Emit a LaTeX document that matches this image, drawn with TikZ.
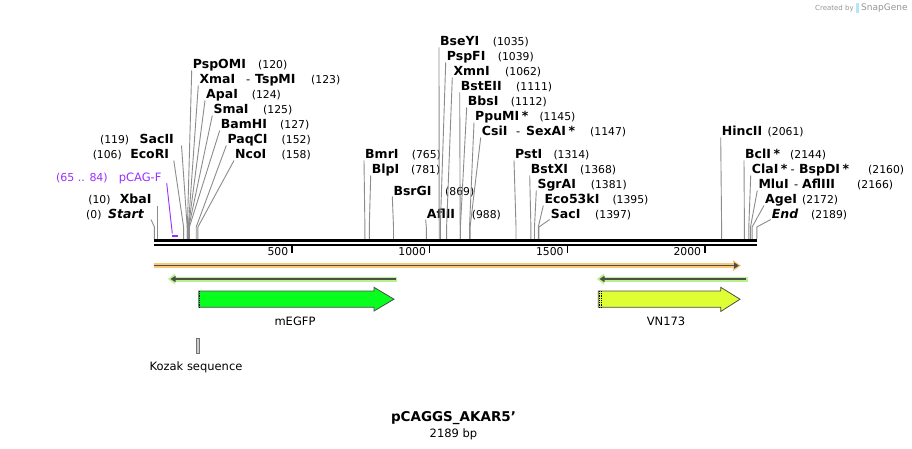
\documentclass[tikz,border=0pt]{standalone}
\usepackage{fontspec}
\setmainfont{DejaVu Sans}
\usetikzlibrary{arrows.meta,calc}
\definecolor{cutgray}{RGB}{140,140,140}
\definecolor{darkline}{RGB}{77,77,77}
\definecolor{orhalo}{RGB}{249,200,122}
\definecolor{grhalo}{RGB}{184,242,140}
\definecolor{egfp}{RGB}{8,255,30}
\definecolor{vn}{RGB}{224,255,51}
\definecolor{primer}{RGB}{155,48,255}
\definecolor{logo}{RGB}{150,150,150}
\newcommand\starmark{\hspace{2.5pt}*}
\tikzset{
  nm/.style={font=\bfseries\fontsize{12.5}{14}\selectfont, inner sep=0pt, anchor=base west},
  nmi/.style={font=\bfseries\itshape\fontsize{12.5}{14}\selectfont, inner sep=0pt, anchor=base west},
  num/.style={font=\fontsize{10.8}{13}\selectfont, inner sep=0pt, anchor=base west},
  cut/.style={draw=cutgray, line width=0.9pt},
  feat/.style={font=\fontsize{11.5}{13}\selectfont, inner sep=0pt},
  dashlbl/.style={font=\fontsize{11.5}{13}\selectfont, inner sep=0pt, anchor=base west},
}
% right-side label: id, label x, label y (centre), name, number x, number, site x
\newcommand\rsite[7]{%
  \node[nm] (n#1) at (#2,#3+4) {#4};
  \node[num] (m#1) at (#5,#3+4) {#6};
  \coordinate (k#1) at (#7,227);
  \coordinate (s#1) at (#7,239);
  \draw[cut] ($(n#1.base west)+(-1,1.5)$) -- (k#1) -- (s#1);
}
% left-side label: id, name right x, label y, name, number right x, number, site x, line dx
\newcommand\lsite[8]{%
  \node[nm, anchor=base east] (n#1) at (#2,#3+4) {#4};
  \node[num, anchor=base east] (m#1) at (#5,#3+4) {#6};
  \coordinate (k#1) at (#7,227);
  \coordinate (s#1) at (#7,239);
  \draw[cut] ($(n#1.base east)+(#8,1.5)$) -- (k#1) -- (s#1);
}
\begin{document}
\begin{tikzpicture}[x=1pt,y=-1pt]
\useasboundingbox (0,0) rectangle (912,449);
\fill[white] (0,0) rectangle (912,449);

% credit
\node[inner sep=0pt, anchor=base west, text=logo, font=\fontsize{7}{8}\selectfont] (cred) at (815,10.5) {Created by};
\fill[cyan!30] (855.5,3) rectangle (858.5,13);
\node[inner sep=0pt, anchor=base west, text=logo, font=\fontsize{9}{10}\selectfont] (sg) at (861,11) {SnapGene};

% ---- left-side labels ----
\node[nmi, anchor=base east] (nstart) at (144,218) {Start};
\node[num, anchor=base east] (mstart) at (101.7,218) {(0)};
\coordinate (kstart) at (154.4,227);
\coordinate (sstart) at (154.4,239);
\draw[cut] ($(nstart.base east)+(7,1.5)$) -- (kstart) -- (sstart);

\lsite{xba}{151.7}{200}{XbaI}{110.7}{(10)}{157.2}{5.5}

\node[inner sep=0pt, anchor=base east, text=primer, font=\fontsize{11.5}{13}\selectfont] (npr) at (161.7,181.5) {pCAG-F};
\node[inner sep=0pt, anchor=base east, text=primer, font=\fontsize{11}{13}\selectfont] (mpr) at (108,181.5) {(65 .. 84)};
\coordinate (kpr) at (172.3,233.5);
\draw[primer, line width=0.9pt] ($(npr.base east)+(5,1.5)$) -- (kpr);
\draw[primer, line width=1.8pt] (172.3,235.6) -- (177.5,235.6);

\lsite{eco}{169.3}{155}{EcoRI}{122}{(106)}{183.6}{4.5}
\lsite{sac2}{174}{140}{SacII}{129.3}{(119)}{187.2}{7.5}

% ---- right-side labels, left group ----
\rsite{psp}{192.7}{65}{PspOMI}{258}{(120)}{187.4}
\rsite{xma}{199.3}{80}{XmaI}{311}{(123)}{188.3}
\node[dashlbl] (dxma) at (246,84) {-};
\node[nm] (txma) at (255,84) {TspMI};
\rsite{apa}{206}{95}{ApaI}{251.7}{(124)}{188.5}
\rsite{sma}{213.3}{110}{SmaI}{263}{(125)}{188.8}
\rsite{bam}{220.7}{125}{BamHI}{280}{(127)}{189.4}
\rsite{paq}{227.3}{140}{PaqCI}{281.5}{(152)}{196.2}
\rsite{nco}{235}{155}{NcoI}{281.5}{(158)}{197.9}

% ---- middle group ----
\rsite{bmr}{365}{155}{BmrI}{411.7}{(765)}{364.9}
\rsite{blp}{371.7}{170}{BlpI}{411}{(781)}{369.3}
\rsite{bsrg}{393.3}{191}{BsrGI}{445}{(869)}{393.5}
\rsite{afl2}{426.7}{214}{AflII}{471.7}{(988)}{426.3}
\rsite{bsey}{440}{42}{BseYI}{492.7}{(1035)}{439.2}
\rsite{pspf}{446.7}{57}{PspFI}{497.7}{(1039)}{440.3}
\rsite{xmn}{453.3}{72}{XmnI}{505}{(1062)}{446.6}
\rsite{bste}{460.7}{87}{BstEII}{516}{(1111)}{460.2}
\rsite{bbs}{467.7}{102}{BbsI}{510.7}{(1112)}{460.4}
\rsite{ppu}{475}{117}{PpuMI\starmark}{539.3}{(1145)}{469.5}
\rsite{csi}{481.7}{132}{CsiI}{590}{(1147)}{470.1}
\node[dashlbl] (dcsi) at (516,136) {-};
\node[nm] (tcsi) at (526,136) {SexAI\starmark};
\rsite{pst}{515}{155}{PstI}{553.3}{(1314)}{516.0}
\rsite{bstx}{530.7}{170}{BstXI}{580}{(1368)}{530.9}
\rsite{sgra}{537.3}{185}{SgrAI}{590.7}{(1381)}{534.5}
\rsite{eco53}{544.3}{200}{Eco53kI}{612.3}{(1395)}{538.3}
\rsite{saci}{550.7}{214}{SacI}{595}{(1397)}{538.9}

% ---- right group ----
\rsite{hinc}{721.7}{132}{HincII}{767.5}{(2061)}{721.6}
\rsite{bcl}{745}{155}{BclI\starmark}{790}{(2144)}{744.4}
\rsite{cla}{751.7}{170}{ClaI\starmark}{868}{(2160)}{748.8}
\node[dashlbl] (dcla) at (790.5,174) {-};
\node[nm] (tcla) at (799,174) {BspDI\starmark};
\rsite{mlu}{758.3}{185}{MluI}{857}{(2166)}{750.5}
\node[dashlbl] (dmlu) at (794,189) {-};
\node[nm] (tmlu) at (802,189) {AflIII};
\rsite{age}{765}{200}{AgeI}{802}{(2172)}{752.1}
\node[nmi] (nend) at (771.7,218) {End};
\node[num] (mend) at (811,218) {(2189)};
\coordinate (kend) at (756.8,227);
\coordinate (send) at (756.8,239);
\draw[cut] ($(nend.base west)+(-1,1.5)$) -- (kend) -- (send);

% ---- sequence bar ----
\coordinate (b0) at (154.4,240.6);
\coordinate (b1) at (757,240.6);
\draw[black, line width=2.8pt] (b0) -- (b1);
\draw[black, line width=2pt] (154.4,244.9) -- (757,244.9);
\foreach \x/\t in {291.9/500, 429.6/1000, 567.2/1500, 704.8/2000}{
  \draw[black, line width=1.4pt] (\x,245) -- (\x,253);
  \node[inner sep=0pt, anchor=base east, font=\fontsize{10.8}{13}\selectfont] at (\x-3.5,255.5) {\t};
}

% ---- orange feature ----
\draw[orhalo, line width=5pt] (154.4,265.6) -- (737,265.6);
\fill[orhalo] (733,260) -- (741,265.6) -- (733,271.2) -- cycle;
\draw[darkline, line width=1.7pt, -{Triangle[length=5pt,width=6pt]}] (154.4,265.6) -- (739,265.6);

% ---- reverse green features ----
\draw[grhalo, line width=5pt] (172,279) -- (397,279);
\fill[grhalo] (175,273.5) -- (168,279) -- (175,284.5) -- cycle;
\draw[darkline, line width=1.7pt, -{Triangle[length=5pt,width=6pt]}] (395.5,279) -- (170.5,279);

\draw[grhalo, line width=5pt] (601,279) -- (747.5,279);
\fill[grhalo] (604,273.5) -- (597,279) -- (604,284.5) -- cycle;
\draw[darkline, line width=1.7pt, -{Triangle[length=5pt,width=6pt]}] (746,279) -- (599.5,279);

% ---- mEGFP ----
\draw[fill=egfp, draw=darkline, line width=0.8pt] (198.7,291) -- (374,291) -- (374,287.3) -- (394,299.2) -- (374,311) -- (374,307.3) -- (198.7,307.3) -- cycle;
\draw[black, line width=0.9pt, dash pattern=on 0.9pt off 0.9pt] (199.3,291) -- (199.3,307.3);
\node[feat] (legfp) at (295,321.5) {mEGFP};

% ---- VN173 ----
\draw[fill=vn, draw=darkline, line width=0.8pt] (598.3,291) -- (720.7,291) -- (720.7,287.3) -- (740,299.2) -- (720.7,311.5) -- (720.7,307.3) -- (598.3,307.3) -- cycle;
\draw[black, line width=0.8pt, dash pattern=on 0.9pt off 0.9pt] (598.9,291) -- (598.9,307.3);
\draw[black, line width=0.8pt, dash pattern=on 0.9pt off 0.9pt] (600.9,291) -- (600.9,307.3);
\node[feat] (lvn) at (666,321.5) {VN173};

% ---- Kozak ----
\draw[fill=gray!40, draw=gray!90!black, line width=0.7pt] (196.8,338.5) rectangle (199.8,353);
\node[feat] (lkoz) at (196,367) {Kozak sequence};

% ---- title ----
\node[inner sep=0pt, font=\bfseries\fontsize{13.5}{15}\selectfont] (title) at (453.5,418) {pCAGGS\_AKAR5’};
\node[inner sep=0pt, font=\fontsize{11.5}{14}\selectfont] (bp) at (453.5,434) {2189 bp};
\end{tikzpicture}
\end{document}
